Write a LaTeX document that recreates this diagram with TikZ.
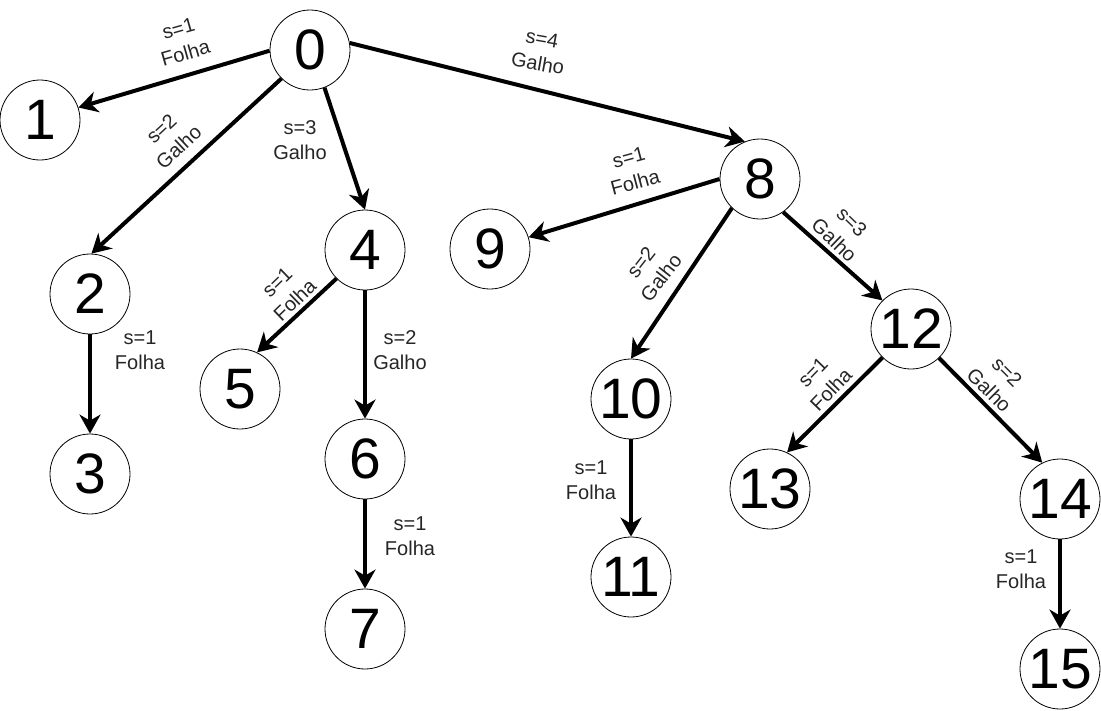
\documentclass[tikz,border=0pt]{standalone}
\usepackage{fontspec}
\setmainfont{Liberation Sans}
\usetikzlibrary{arrows.meta}
\begin{document}
\begin{tikzpicture}[x=1pt,y=-1pt,
  vtx/.style={circle,draw,line width=0.8pt,minimum size=80pt,inner sep=0pt,
    font=\fontsize{57}{57}\selectfont},
  edge/.style={line width=4pt,-{Stealth[length=19pt,width=21pt,inset=6pt]}},
  lbl/.style={align=center,inner sep=0pt,text=black!85,
    font=\fontsize{20}{25.5}\selectfont}]
\useasboundingbox (0,0) rectangle (1101,710);

% tree vertices
\node[vtx] (n0)  at (310,50)   {0};
\node[vtx] (n1)  at (40,120)   {1};
\node[vtx] (n2)  at (90,294)   {2};
\node[vtx] (n3)  at (90,474)   {3};
\node[vtx] (n4)  at (365,250)  {4};
\node[vtx] (n5)  at (240,389)  {5};
\node[vtx] (n6)  at (365,459)  {6};
\node[vtx] (n7)  at (365,629)  {7};
\node[vtx] (n8)  at (760,179)  {8};
\node[vtx] (n9)  at (490,249)  {9};
\node[vtx] (n10) at (631,399)  {10};
\node[vtx] (n11) at (631,577)  {11};
\node[vtx] (n12) at (911,329)  {12};
\node[vtx] (n13) at (770,489)  {13};
\node[vtx] (n14) at (1060,499) {14};
\node[vtx] (n15) at (1060,669) {15};

% parent -> child edges
\draw[edge] (n0.181) -- (n1.18);
\draw[edge] (n0.225) -- (n2.88);
\draw[edge] (n0.291) -- (n4.90);
\draw[edge] (n0.10)  -- (n8.112);
\draw[edge] (n2.270) -- (n3.90);
\draw[edge] (n4.225) -- (n5.65);
\draw[edge] (n4.270) -- (n6.90);
\draw[edge] (n6.270) -- (n7.90);
\draw[edge] (n8.180) -- (n9.17);
\draw[edge] (n8.226) -- (n10.90);
\draw[edge] (n8.305) -- (n12.135);
\draw[edge] (n10.270) -- (n11.90);
\draw[edge] (n12.225) -- (n13.65);
\draw[edge] (n12.314) -- (n14.116);
\draw[edge] (n14.270) -- (n15.90);

% edge labels
\node[lbl,rotate=16]  (l01)   at (182,41)   {s=1\\Folha};
\node[lbl,rotate=43]  (l02)   at (170,138)  {s=2\\Galho};
\node[lbl]            (l04)   at (300,140)  {s=3\\Galho};
\node[lbl,rotate=-10] (l08)   at (540,51)   {s=4\\Galho};
\node[lbl]            (l23)   at (140,350)  {s=1\\Folha};
\node[lbl,rotate=44]  (l45)   at (286,291)  {s=1\\Folha};
\node[lbl]            (l46)   at (400,350)  {s=2\\Galho};
\node[lbl]            (l67)   at (410,536)  {s=1\\Folha};
\node[lbl,rotate=15]  (l89)   at (632,170)  {s=1\\Folha};
\node[lbl,rotate=52]  (l810)  at (651,270)  {s=2\\Galho};
\node[lbl,rotate=-44] (l812)  at (843,231)  {s=3\\Galho};
\node[lbl]            (l1011) at (591,480)  {s=1\\Folha};
\node[lbl,rotate=46]  (l1213) at (822,381)  {s=1\\Folha};
\node[lbl,rotate=-45] (l1214) at (998,381)  {s=2\\Galho};
\node[lbl]            (l1415) at (1021,569) {s=1\\Folha};
\end{tikzpicture}
\end{document}
